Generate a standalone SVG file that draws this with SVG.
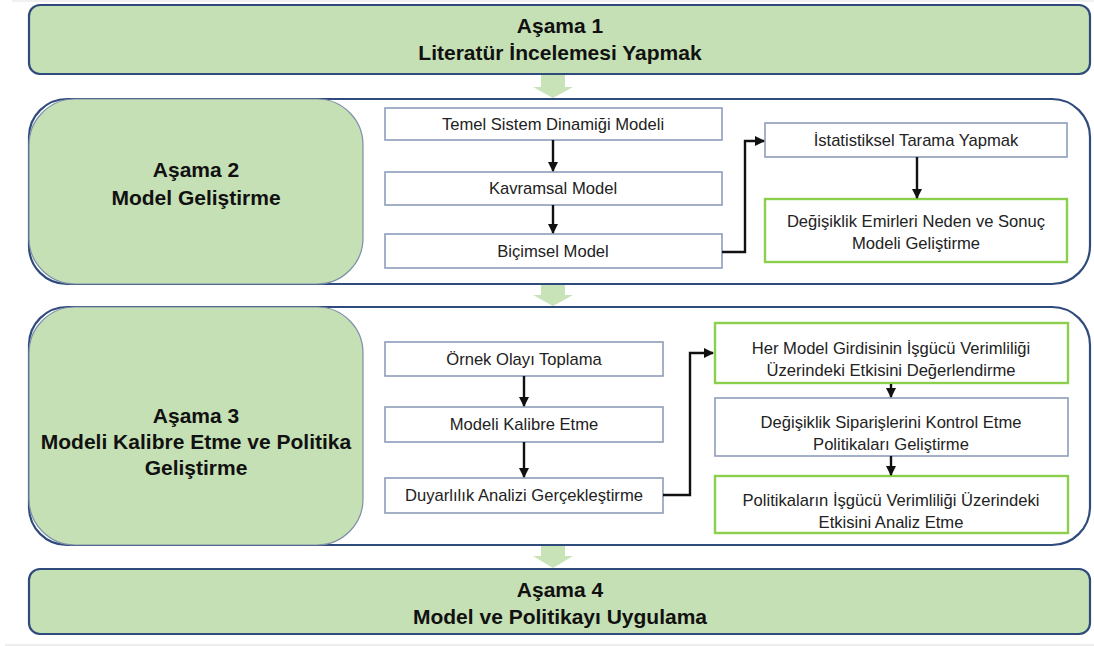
<svg xmlns="http://www.w3.org/2000/svg" width="1094" height="646" viewBox="0 0 1094 646">
  <style>
    .stage { fill: #c5e0b4; stroke: #2f4b7c; stroke-width: 2.2; }
    .panel { fill: #ffffff; stroke: #2f4b7c; stroke-width: 2.2; }
    .block { fill: #c5e0b4; stroke: #7d8ea8; stroke-width: 1.2; }
    .box { fill: #ffffff; stroke: #8c9dbb; stroke-width: 1.6; }
    .gbox { fill: #ffffff; stroke: #8ccf4d; stroke-width: 2.4; }
    .title { font-family: "Liberation Sans", Arial, sans-serif; font-weight: bold; font-size: 21px; fill: #111111; text-anchor: middle; }
    .label { font-family: "Liberation Sans", Arial, sans-serif; font-size: 16.6px; fill: #222222; text-anchor: middle; }
    .wire { fill: none; stroke: #111111; stroke-width: 2.4; }
    .flow { fill: #c9e3b9; }
  </style>
  <defs>
    <marker id="head" viewBox="0 0 10 10" refX="9" refY="5" markerWidth="4.2" markerHeight="4.2" orient="auto">
      <path d="M0,0 L10,5 L0,10 z" fill="#111111"/>
    </marker>
  </defs>

  <!-- frame hairlines -->
  <line x1="12" y1="1" x2="1094" y2="1" stroke="#e3e3e3" stroke-width="1"/>
  <line x1="5" y1="645" x2="1094" y2="645" stroke="#dcdcdc" stroke-width="1"/>

  <!-- broad flow arrows between stages -->
  <g id="stage-flow">
    <path class="flow" d="M541,75 H565 V87 H573 L553,98 L533,87 H541 Z"/>
    <path class="flow" d="M541,285 H565 V295 H573 L553,306 L533,295 H541 Z"/>
    <path class="flow" d="M541,546 H565 V556 H573 L553,568 L533,556 H541 Z"/>
  </g>

  <!-- Stage 1 -->
  <g id="stage1">
    <rect class="stage" x="29" y="5" width="1061" height="69" rx="11"/>
    <text class="title" x="560" y="33">Aşama 1</text>
    <text class="title" x="560" y="60">Literatür İncelemesi Yapmak</text>
  </g>

  <!-- Stage 2 -->
  <g id="stage2">
    <rect class="panel" x="29" y="99" width="1061" height="185" rx="38"/>
    <rect class="block" x="29" y="99" width="334" height="185" rx="46"/>
    <text class="title" x="196" y="177">Aşama 2</text>
    <text class="title" x="196" y="205">Model Geliştirme</text>
  </g>
  <g id="n-temel">
    <rect class="box" x="385" y="108" width="337" height="32"/>
    <text class="label" x="553" y="130">Temel Sistem Dinamiği Modeli</text>
  </g>
  <g id="n-kavramsal">
    <rect class="box" x="385" y="172" width="337" height="33"/>
    <text class="label" x="553" y="194">Kavramsal Model</text>
  </g>
  <g id="n-bicimsel">
    <rect class="box" x="385" y="234" width="337" height="34"/>
    <text class="label" x="553" y="257">Biçimsel Model</text>
  </g>
  <g id="n-istatistik">
    <rect class="box" x="765" y="123" width="302" height="34"/>
    <text class="label" x="916" y="146">İstatistiksel Tarama Yapmak</text>
  </g>
  <g id="n-nedensonuc">
    <rect class="gbox" x="765" y="199" width="302" height="63"/>
    <text class="label" x="916" y="227">Değişiklik Emirleri Neden ve Sonuç</text>
    <text class="label" x="916" y="249">Modeli Geliştirme</text>
  </g>

  <!-- Stage 3 -->
  <g id="stage3">
    <rect class="panel" x="29" y="307" width="1061" height="238" rx="38"/>
    <rect class="block" x="29" y="307" width="334" height="238" rx="46"/>
    <text class="title" x="196" y="423">Aşama 3</text>
    <text class="title" x="196" y="449">Modeli Kalibre Etme ve Politika</text>
    <text class="title" x="196" y="475">Geliştirme</text>
  </g>
  <g id="n-ornek">
    <rect class="box" x="385" y="342" width="278" height="34"/>
    <text class="label" x="524" y="365">Örnek Olayı Toplama</text>
  </g>
  <g id="n-kalibre">
    <rect class="box" x="385" y="407" width="278" height="35"/>
    <text class="label" x="524" y="430">Modeli Kalibre Etme</text>
  </g>
  <g id="n-duyarlilik">
    <rect class="box" x="385" y="478" width="278" height="35"/>
    <text class="label" x="524" y="501">Duyarlılık Analizi Gerçekleştirme</text>
  </g>
  <g id="n-girdi">
    <rect class="gbox" x="715" y="323" width="353" height="60"/>
    <text class="label" x="891" y="354">Her Model Girdisinin İşgücü Verimliliği</text>
    <text class="label" x="891" y="376">Üzerindeki Etkisini Değerlendirme</text>
  </g>
  <g id="n-kontrol">
    <rect class="box" x="715" y="398" width="353" height="58"/>
    <text class="label" x="891" y="428">Değişiklik Siparişlerini Kontrol Etme</text>
    <text class="label" x="891" y="450">Politikaları Geliştirme</text>
  </g>
  <g id="n-politika">
    <rect class="gbox" x="715" y="476" width="353" height="57"/>
    <text class="label" x="891" y="506">Politikaların İşgücü Verimliliği Üzerindeki</text>
    <text class="label" x="891" y="528">Etkisini Analiz Etme</text>
  </g>

  <!-- Stage 4 -->
  <g id="stage4">
    <rect class="stage" x="29" y="569" width="1061" height="65" rx="11"/>
    <text class="title" x="560" y="597">Aşama 4</text>
    <text class="title" x="560" y="624">Model ve Politikayı Uygulama</text>
  </g>

  <!-- connectors -->
  <g id="connectors">
    <line class="wire" x1="553" y1="140" x2="553" y2="171" marker-end="url(#head)"/>
    <line class="wire" x1="553" y1="205" x2="553" y2="233" marker-end="url(#head)"/>
    <polyline class="wire" points="722,252 745,252 745,141 764,141" marker-end="url(#head)"/>
    <line class="wire" x1="917" y1="157" x2="917" y2="198" marker-end="url(#head)"/>
    <line class="wire" x1="524" y1="376" x2="524" y2="406" marker-end="url(#head)"/>
    <line class="wire" x1="524" y1="442" x2="524" y2="477" marker-end="url(#head)"/>
    <polyline class="wire" points="663,495 690,495 690,353 713,353" marker-end="url(#head)"/>
    <line class="wire" x1="891" y1="384" x2="891" y2="397" marker-end="url(#head)"/>
    <line class="wire" x1="891" y1="456" x2="891" y2="475" marker-end="url(#head)"/>
  </g>
</svg>
